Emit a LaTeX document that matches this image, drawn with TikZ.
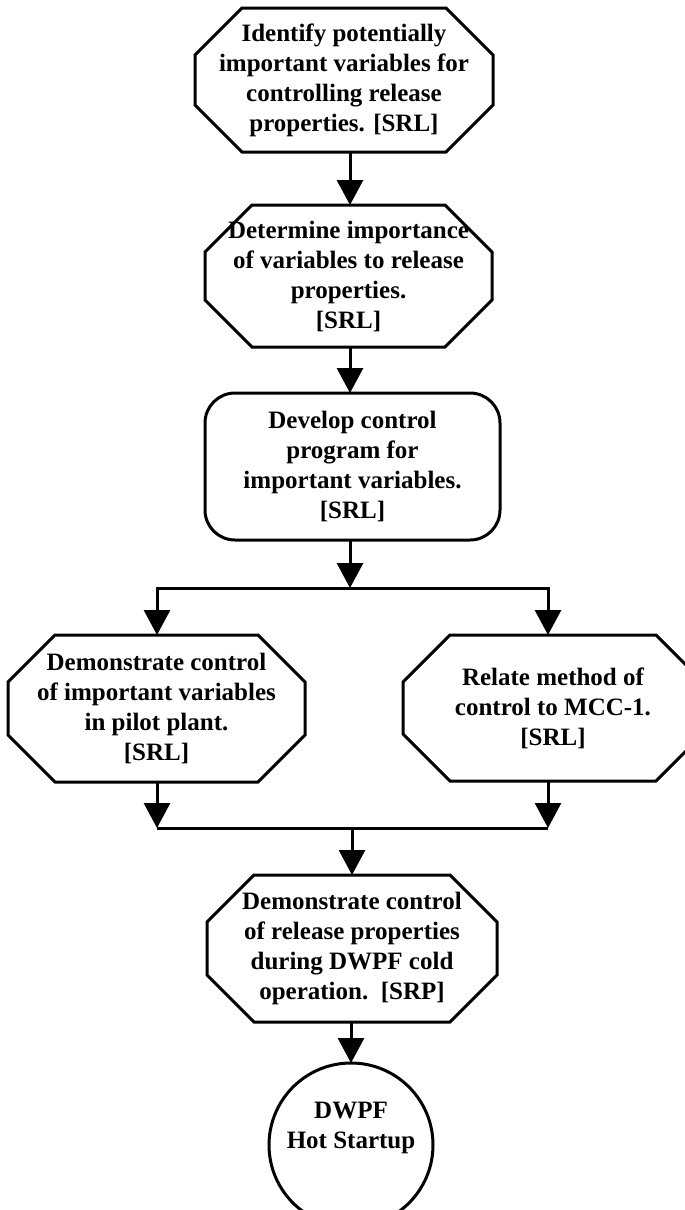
\documentclass[tikz,border=0pt]{standalone}
\usepackage{fontspec}
\setmainfont{Liberation Serif}
\usetikzlibrary{arrows.meta}

% octagonal frame drawn around a (borderless) rectangular node
\newcommand\octframe[1]{%
  \draw[edge] ([xshift=47pt]#1.north west) -- ([xshift=-47pt]#1.north east)
    -- ([yshift=-47pt]#1.north east) -- ([yshift=47pt]#1.south east)
    -- ([xshift=-47pt]#1.south east) -- ([xshift=47pt]#1.south west)
    -- ([yshift=47pt]#1.south west) -- ([yshift=-47pt]#1.north west) -- cycle;}

\tikzset{
  edge/.style={line width=3pt, line join=miter},
  frame/.style={rectangle, inner sep=0pt, outer sep=0pt, align=center,
    font=\bfseries\fontsize{25}{30}\selectfont},
  roundbox/.style={frame, draw, line width=3pt, rounded corners=30pt},
  endcircle/.style={circle, draw, line width=3pt, inner sep=0pt, outer sep=0pt},
  label/.style={inner sep=0pt, align=center, font=\bfseries\fontsize{25}{30}\selectfont},
  flow/.style={line width=3pt, -{Triangle[length=25pt,width=26pt]}},
  plain/.style={line width=3pt}
}

\begin{document}
\begin{tikzpicture}[x=1pt,y=-1pt]
  \useasboundingbox (0,0) rectangle (685,1210);
  \clip (0,0) rectangle (685,1210);

  % process steps
  \node[frame, minimum width=298pt, minimum height=144pt] (identify) at (344,80)
    {Identify potentially\\important variables for\\controlling release\\properties. [SRL]};
  \octframe{identify}

  \node[frame, minimum width=287pt, minimum height=142pt] (determine) at (348.5,276)
    {Determine importance\\of variables to release\\properties.\\{}[SRL]};
  \octframe{determine}

  \node[roundbox, minimum width=295pt, minimum height=147pt] (develop) at (352.5,466.5)
    {Develop control\\program for\\important variables.\\{}[SRL]};

  \node[frame, minimum width=297pt, minimum height=147pt] (pilot) at (156.5,708.5)
    {Demonstrate control\\of important variables\\in pilot plant.\\{}[SRL]};
  \octframe{pilot}

  \node[frame, minimum width=300pt, minimum height=146pt] (relate) at (553,708)
    {Relate method of\\control to MCC-1.\\{}[SRL]};
  \octframe{relate}

  \node[frame, minimum width=290pt, minimum height=147pt] (cold) at (352,948.5)
    {Demonstrate control\\of release properties\\during DWPF cold\\operation.\ \ [SRP]};
  \octframe{cold}

  \node[endcircle, minimum size=164pt] (hot) at (351,1145) {};
  \node[label] (hotlabel) at (351,1128) {DWPF\\Hot Startup};

  % connector routing points
  \coordinate (col) at (350,0);
  \coordinate (split) at (350,588);
  \coordinate (splitL) at (157,588);
  \coordinate (splitR) at (548,588);
  \coordinate (mergeL) at (157,828);
  \coordinate (mergeR) at (548,828);
  \coordinate (merge) at (352,828);

  % connectors
  \draw[flow] (identify.south -| col) -- (determine.north -| col);
  \draw[flow] (determine.south -| col) -- (develop.north -| col);
  \draw[flow] (develop.south -| split) -- (split);
  \draw[flow] (split) -| (pilot.north -| splitL);
  \draw[flow] (split) -| (relate.north -| splitR);
  \draw[flow] (pilot.south -| mergeL) -- (mergeL);
  \draw[flow] (relate.south -| mergeR) -- (mergeR);
  \draw[plain] (mergeL) -- (mergeR);
  \draw[flow] (merge) -- (cold.north -| merge);
  \draw[flow] (cold.south -| hot) -- (hot.north);
\end{tikzpicture}
\end{document}
